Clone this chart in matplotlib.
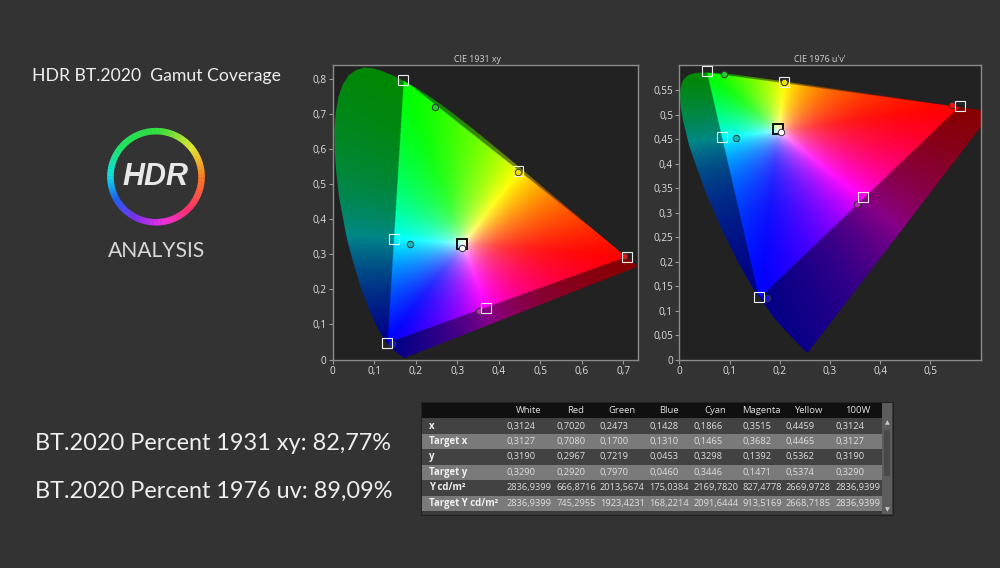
"""
HDR BT.2020 gamut coverage: две диаграммы цветности и таблица измерений
"""

import numpy as np
import matplotlib
matplotlib.use('Agg')
import matplotlib.pyplot as plt
from matplotlib.colors import LinearSegmentedColormap
from matplotlib.patches import Polygon, Rectangle, Wedge, FancyBboxPatch

# Спектральный локус CIE 1931
locus_x = [.1741, .1733, .1714, .1689, .1644, .1566, .1440, .1241, .1096, .0913, .0687, .0454, .0345, .0235,
           .0157, .0082, .0054, .0039, .0075, .0139, .0245, .0389, .0555, .0743, .0940, .1142, .1547, .1929,
           .2296, .2658, .3016, .3373, .3731, .4441, .5125, .5752, .6270, .6658, .6915, .7079, .7190, .7260,
           .7347]
locus_y = [.0050, .0048, .0051, .0069, .0109, .0177, .0297, .0578, .0868, .1327, .2007, .2950, .3430, .4127,
           .4610, .5384, .5850, .6548, .7060, .7502, .7860, .8120, .8260, .8338, .8320, .8262, .8059, .7816,
           .7543, .7243, .6923, .6589, .6245, .5547, .4866, .4242, .3725, .3340, .3083, .2920, .2809, .2740,
           .2653]

# Основные цвета BT.2020 и белая точка
primary_x = [0.708, 0.170, 0.131]
primary_y = [0.292, 0.797, 0.046]
white_x, white_y = 0.3127, 0.3290

patch_names = ['White', 'Red', 'Green', 'Blue', 'Cyan', 'Magenta', 'Yellow']
patch_colors = ['#ffffff', '#ee1111', '#22cc33', '#1111dd', '#11bbbb', '#cc22cc', '#f0e010']

# Таблица
col_names = ['White', 'Red', 'Green', 'Blue', 'Cyan', 'Magenta', 'Yellow', '100W']
row_names = ['x', 'Target x', 'y', 'Target y', 'Y cd/m²', 'Target Y cd/m²']
meas_x = ['0,3124', '0,7020', '0,2473', '0,1428', '0,1866', '0,3515', '0,4459', '0,3124']
targ_x = ['0,3127', '0,7080', '0,1700', '0,1310', '0,1465', '0,3682', '0,4465', '0,3127']
meas_y = ['0,3190', '0,2967', '0,7219', '0,0453', '0,3298', '0,1392', '0,5362', '0,3190']
targ_y = ['0,3290', '0,2920', '0,7970', '0,0460', '0,3446', '0,1471', '0,5374', '0,3290']
meas_lum = ['2836,9399', '666,8716', '2013,5674', '175,0384', '2169,7820', '827,4778', '2669,9728', '2836,9399']
targ_lum = ['2836,9399', '745,2955', '1923,4231', '168,2214', '2091,6444', '913,5169', '2668,7185', '2836,9399']

# Точки на диаграмме u'v'
targ_u = [.197, .558, .0558, .159, .085, .366, .2085]
targ_v = [.471, .519, .589, .129, .455, .332, .568]
meas_u = [.202, .543, .088, .175, .112, .353, .2085]
meas_v = [.466, .520, .583, .126, .453, .318, .567]

# Цвета кольца логотипа: угол по часовой от верха
ring_angles = [0, 50, 90, 135, 170, 205, 240, 270, 310, 360]
ring_colors = ['#33e040', '#e6e832', '#ff7a20', '#ff3070', '#f030e0', '#8030f0', '#2060f0',
               '#10e0e8', '#20e860', '#33e040']

BG = '#333333'
FONT = 'Lato'
TABLE_FONT = 'Open Sans'
plt.rcParams['font.family'] = [TABLE_FONT, 'DejaVu Sans']

FIG_W, FIG_H = 1000, 568


def px_axes(fig, left, top, right, bottom):
    return fig.add_axes([left / FIG_W, 1 - bottom / FIG_H, (right - left) / FIG_W, (bottom - top) / FIG_H])


def xy_to_uv(x, y):
    d = -2 * x + 12 * y + 3
    return 4 * x / d, 9 * y / d


def uv_to_xy(u, v):
    d = 6 * u - 16 * v + 12
    return 9 * u / d, 4 * v / d


def xyz_matrix():
    # матрица XYZ -> RGB для примарных BT.2020
    px, py = np.array(primary_x), np.array(primary_y)
    m = np.array([px / py, np.ones(3), (1 - px - py) / py])
    w = np.array([white_x / white_y, 1, (1 - white_x - white_y) / white_y])
    return np.linalg.inv(m * np.linalg.solve(m, w))


def gamut_colors(x, y, sat=0.62, gamma=1.1, dim=0.53):
    mat = xyz_matrix()
    y = np.maximum(y, 1e-4)
    xyz = np.stack([x / y, np.ones_like(x), (1 - x - y) / y], axis=-1)
    rgb = xyz @ mat.T
    inside = rgb.min(axis=-1) >= 0
    rgb = np.clip(rgb, 0, None)
    rgb = rgb / np.maximum(rgb.max(axis=-1, keepdims=True), 1e-6)
    # убираем часть минимального канала: белое пятно уже, цвета чище
    low = sat * rgb.min(axis=-1, keepdims=True)
    rgb = np.clip((rgb - low) / (1 - low), 0, 1) ** gamma
    rgb[~inside] *= dim
    return rgb


def draw_diagram(ax, colors, outline, xlim, ylim, xticks, yticks, xlabels, ylabels):
    ax.set_facecolor('#222222')
    im = ax.imshow(colors, origin='lower', extent=(*xlim, *ylim), aspect='auto', interpolation='bilinear')
    im.set_clip_path(Polygon(outline, closed=True, transform=ax.transData))
    ax.set_xlim(*xlim)
    ax.set_ylim(*ylim)
    ax.set_xticks(xticks, xlabels)
    ax.set_yticks(yticks, ylabels)
    ax.tick_params(colors='#dddddd', labelsize=7.2, length=3, width=0.8, pad=1.5)
    ax.tick_params(axis='both', color='#999999')
    for s in ax.spines.values():
        s.set_color('#8c8c8c')
        s.set_linewidth(1.0)


def draw_points(ax, tx, ty, mx, my):
    for i in range(len(tx)):
        ax.plot(mx[i], my[i], 'o', ms=4.6, mfc=patch_colors[i], mec='#333333', mew=0.7, zorder=4)
        if patch_names[i] == 'White':
            ax.plot(tx[i], ty[i], 's', ms=7, mfc='none', mec='#111111', mew=1.4, zorder=3)
        else:
            ax.plot(tx[i], ty[i], 's', ms=6.6, mfc='none', mec='#eeeeee', mew=0.8, zorder=5)


fig = plt.figure(figsize=(FIG_W / 100, FIG_H / 100), dpi=100, facecolor=BG)

# CIE 1931 xy
ax1 = px_axes(fig, 332.7, 65, 638, 359.5)
xlim1, ylim1 = (0, 0.7355), (0, 0.841)
gx, gy = np.meshgrid(np.linspace(*xlim1, 900), np.linspace(*ylim1, 900))
draw_diagram(ax1, gamut_colors(gx, gy), np.column_stack([locus_x, locus_y]), xlim1, ylim1,
             [0, .1, .2, .3, .4, .5, .6, .7], [0, .1, .2, .3, .4, .5, .6, .7, .8],
             ['0', '0,1', '0,2', '0,3', '0,4', '0,5', '0,6', '0,7'],
             ['0', '0,1', '0,2', '0,3', '0,4', '0,5', '0,6', '0,7', '0,8'])
tx = [float(v.replace(',', '.')) for v in targ_x[:7]]
ty = [float(v.replace(',', '.')) for v in targ_y[:7]]
mx = [float(v.replace(',', '.')) for v in meas_x[:7]]
my = [float(v.replace(',', '.')) for v in meas_y[:7]]
draw_points(ax1, tx, ty, mx, my)

# CIE 1976 u'v'
ax2 = px_axes(fig, 679.3, 65, 980.7, 360)
xlim2, ylim2 = (0, 0.6), (0, 0.602)
gu, gv = np.meshgrid(np.linspace(*xlim2, 900), np.linspace(*ylim2, 900))
lu, lv = xy_to_uv(np.array(locus_x), np.array(locus_y))
draw_diagram(ax2, gamut_colors(*uv_to_xy(gu, gv)), np.column_stack([lu, lv]), xlim2, ylim2,
             [0, .1, .2, .3, .4, .5], [0, .05, .1, .15, .2, .25, .3, .35, .4, .45, .5, .55],
             ['0', '0,1', '0,2', '0,3', '0,4', '0,5'],
             ['0', '0,05', '0,1', '0,15', '0,2', '0,25', '0,3', '0,35', '0,4', '0,45', '0,5', '0,55'])
draw_points(ax2, targ_u, targ_v, meas_u, meas_v)

# Всё остальное рисуем в пикселях
ov = fig.add_axes([0, 0, 1, 1], zorder=-1)
ov.set_xlim(0, FIG_W)
ov.set_ylim(FIG_H, 0)
ov.axis('off')

ov.text(478, 59, 'CIE 1931 xy', color='#d0d0d0', fontsize=6.4, ha='center', va='center')
ov.text(820, 59, "CIE 1976 u'v'", color='#d0d0d0', fontsize=6.4, ha='center', va='center')

ov.text(32, 76, 'HDR BT.2020  Gamut Coverage', color='#eeeeee', fontsize=12.7, family=FONT, va='center')
ov.text(35, 443, 'BT.2020 Percent 1931 xy: 82,77%', color='#eeeeee', fontsize=16.9, family=FONT, va='center')
ov.text(35, 491, 'BT.2020 Percent 1976 uv: 89,09%', color='#eeeeee', fontsize=16.9, family=FONT, va='center')

# Логотип
cmap = LinearSegmentedColormap.from_list('ring', [(a / 360, c) for a, c in zip(ring_angles, ring_colors)])
for a in np.arange(0, 360, 2):
    ov.add_patch(Wedge((156, 176.7), 48.8, a - 90, a - 87.5, width=6.5, fc=cmap(a / 360), ec='none'))
ov.text(155, 177, 'HDR', color='#e8e8e8', fontsize=22, family='Liberation Sans', weight='bold', style='italic',
        ha='center', va='center')
ov.text(156.5, 251, 'ANALYSIS', color='#d8d8d8', fontsize=15.2, family=FONT, ha='center', va='center')

# Таблица
ov.add_patch(Rectangle((421, 402), 472, 113, fc='#3a3a3a', ec='#222222', lw=0.8))
ov.add_patch(Rectangle((421.7, 403), 460, 15, fc='#101010', ec='none'))
ov.add_patch(Rectangle((882, 403), 10, 111, fc='#5c5c5c', ec='none'))
ov.add_patch(FancyBboxPatch((884, 430), 6, 46, boxstyle='round,pad=0,rounding_size=2', fc='#484848', ec='none'))
ov.text(887, 423, '▲', color='#cccccc', fontsize=4.5, ha='center', va='center', family='DejaVu Sans')
ov.text(887, 510, '▼', color='#cccccc', fontsize=4.5, ha='center', va='center', family='DejaVu Sans')

col_left = [506.7, 556.3, 600, 649.3, 693.3, 742.7, 786, 835.7]
col_mid = [529, 576, 622.3, 669, 715, 761.7, 808.3, 857.7]
rows = [meas_x, targ_x, meas_y, targ_y, meas_lum, targ_lum]
row_top = 418.3
row_h = 15.45
for name, x in zip(col_names, col_mid):
    ov.text(x, 410.5, name, color='#e0e0e0', fontsize=6.8, ha='center', va='center')
for i, (label, values) in enumerate(zip(row_names, rows)):
    y = row_top + i * row_h
    ov.add_patch(Rectangle((421.7, y), 460, row_h, fc='#7a7a7a' if i % 2 else '#424242', ec='none'))
    ov.text(429, y + row_h / 2, label, color='#f0f0f0', fontsize=6.9, weight='bold', va='center')
    for x, v in zip(col_left, values):
        ov.text(x, y + row_h / 2, v, color='#dddddd', fontsize=6.7, va='center')

fig.savefig('out.png', dpi=100, facecolor=BG)
